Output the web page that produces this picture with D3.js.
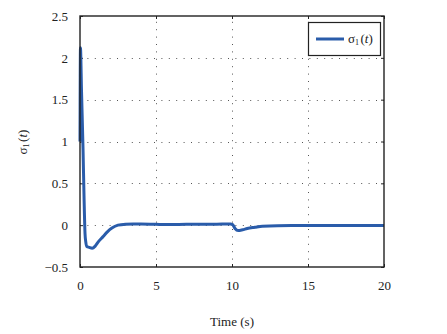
<!DOCTYPE html>
<html>
<head>
<meta charset="utf-8">
<script src="https://cdn.jsdelivr.net/npm/d3@7"></script>
<style>
  html, body { margin: 0; padding: 0; background: #fff; }
  svg { display: block; }
  text { font-family: "Liberation Serif", "Times New Roman", serif; fill: #222; }
</style>
</head>
<body>
<svg id="chart" width="447" height="334"></svg>
<script>
// Sliding variable response sigma_1(t)
const timeS = [0, 0.03, 0.1, 0.2, 0.27, 0.33, 0.38, 0.45, 0.6, 0.8, 1.0, 1.2, 1.5, 1.8, 2.1, 2.5, 3, 3.5, 4, 5, 6, 7, 8, 9, 9.9, 10.05, 10.2, 10.4, 10.7, 11, 11.5, 12, 13, 15, 17, 20];
const sigma1 = [1.0, 2.12, 1.6, 0.9, 0.3, -0.1, -0.2, -0.255, -0.265, -0.275, -0.25, -0.2, -0.14, -0.08, -0.035, 0, 0.012, 0.015, 0.013, 0.01, 0.008, 0.01, 0.01, 0.012, 0.015, 0.005, -0.04, -0.065, -0.055, -0.04, -0.025, -0.012, -0.006, -0.005, -0.005, -0.005];
const xTicks = [0, 5, 10, 15, 20];
const yTicks = [-0.5, 0, 0.5, 1, 1.5, 2, 2.5];
const seriesName = "σ";

const svg = d3.select("#chart");
const plotL = 80, plotR = 384, plotT = 16, plotB = 267;

const x = d3.scaleLinear().domain([0, 20]).range([plotL, plotR]);
const y = d3.scaleLinear().domain([-0.5, 2.5]).range([plotB, plotT]);

const fmt = v => (v < 0 ? "\u2212" + Math.abs(v) : String(v));

// dotted grid
const grid = svg.append("g").attr("stroke", "#555").attr("stroke-width", 1)
  .attr("stroke-dasharray", "1,6.4");
xTicks.filter(v => v > 0 && v < 20).forEach(v => {
  grid.append("line").attr("x1", x(v) + 0.5).attr("x2", x(v) + 0.5)
    .attr("y1", plotB).attr("y2", plotT);
});
yTicks.filter(v => v > -0.5 && v < 2.5).forEach(v => {
  grid.append("line").attr("y1", Math.round(y(v)) + 0.5).attr("y2", Math.round(y(v)) + 0.5)
    .attr("x1", plotL).attr("x2", plotR);
});

// axes with inward ticks
const xAxisB = d3.axisBottom(x).tickValues(xTicks).tickSizeInner(-3).tickSizeOuter(0).tickPadding(14).tickFormat(fmt);
const xAxisT = d3.axisTop(x).tickValues(xTicks).tickSizeInner(-3).tickSizeOuter(0).tickFormat("");
const yAxisL = d3.axisLeft(y).tickValues(yTicks).tickSizeInner(-3).tickSizeOuter(0).tickPadding(12).tickFormat(fmt);
const yAxisR = d3.axisRight(y).tickValues(yTicks).tickSizeInner(-3).tickSizeOuter(0).tickFormat("");

function styleAxis(g) {
  g.select(".domain").remove();
  g.selectAll(".tick line").attr("stroke", "#222");
  g.selectAll(".tick text").attr("font-size", 13).attr("fill", "#222")
    .style("font-family", "'Liberation Serif', 'Times New Roman', serif");
}
svg.append("g").attr("transform", `translate(0,${plotB})`).call(xAxisB).call(styleAxis);
svg.append("g").attr("transform", `translate(0,${plotT})`).call(xAxisT).call(styleAxis);
svg.append("g").attr("transform", `translate(${plotL},0)`).call(yAxisL).call(styleAxis);
svg.append("g").attr("transform", `translate(${plotR},0)`).call(yAxisR).call(styleAxis);

// data line
const line = d3.line().x((d, i) => x(timeS[i])).y(d => y(d)).curve(d3.curveMonotoneX);
svg.append("path").datum(sigma1)
  .attr("d", line)
  .attr("fill", "none")
  .attr("stroke", "#2a5caa")
  .attr("stroke-width", 3)
  .attr("stroke-linejoin", "round");

// frame
svg.append("rect").attr("x", plotL).attr("y", plotT).attr("width", plotR - plotL).attr("height", plotB - plotT)
  .attr("fill", "none").attr("stroke", "#222").attr("stroke-width", 1.4);

// legend
const lg = svg.append("g");
lg.append("rect").attr("x", 308.5).attr("y", 22.5).attr("width", 72).attr("height", 33)
  .attr("fill", "#fff").attr("stroke", "#222").attr("stroke-width", 1.2);
lg.append("line").attr("x1", 316).attr("x2", 344).attr("y1", 39).attr("y2", 39)
  .attr("stroke", "#2a5caa").attr("stroke-width", 3);
const lt = lg.append("text").attr("x", 348).attr("y", 43).attr("font-size", 13);
lt.append("tspan").text(seriesName);
lt.append("tspan").attr("font-size", 8).attr("dy", 2).text("1");
lt.append("tspan").attr("dy", -2).attr("dx", 1.5).text("(");
lt.append("tspan").attr("font-style", "italic").text("t");
lt.append("tspan").text(")");

// axis titles
svg.append("text").attr("x", 232).attr("y", 326).attr("text-anchor", "middle")
  .attr("font-size", 13).text("Time (s)");
const yt = svg.append("text").attr("transform", "translate(27,142) rotate(-90)")
  .attr("text-anchor", "middle").attr("font-size", 13);
yt.append("tspan").text(seriesName);
yt.append("tspan").attr("font-size", 8).attr("dy", 2).text("1");
yt.append("tspan").attr("dy", -2).attr("dx", 1.5).text("(");
yt.append("tspan").attr("font-style", "italic").text("t");
yt.append("tspan").text(")");
</script>
</body>
</html>
